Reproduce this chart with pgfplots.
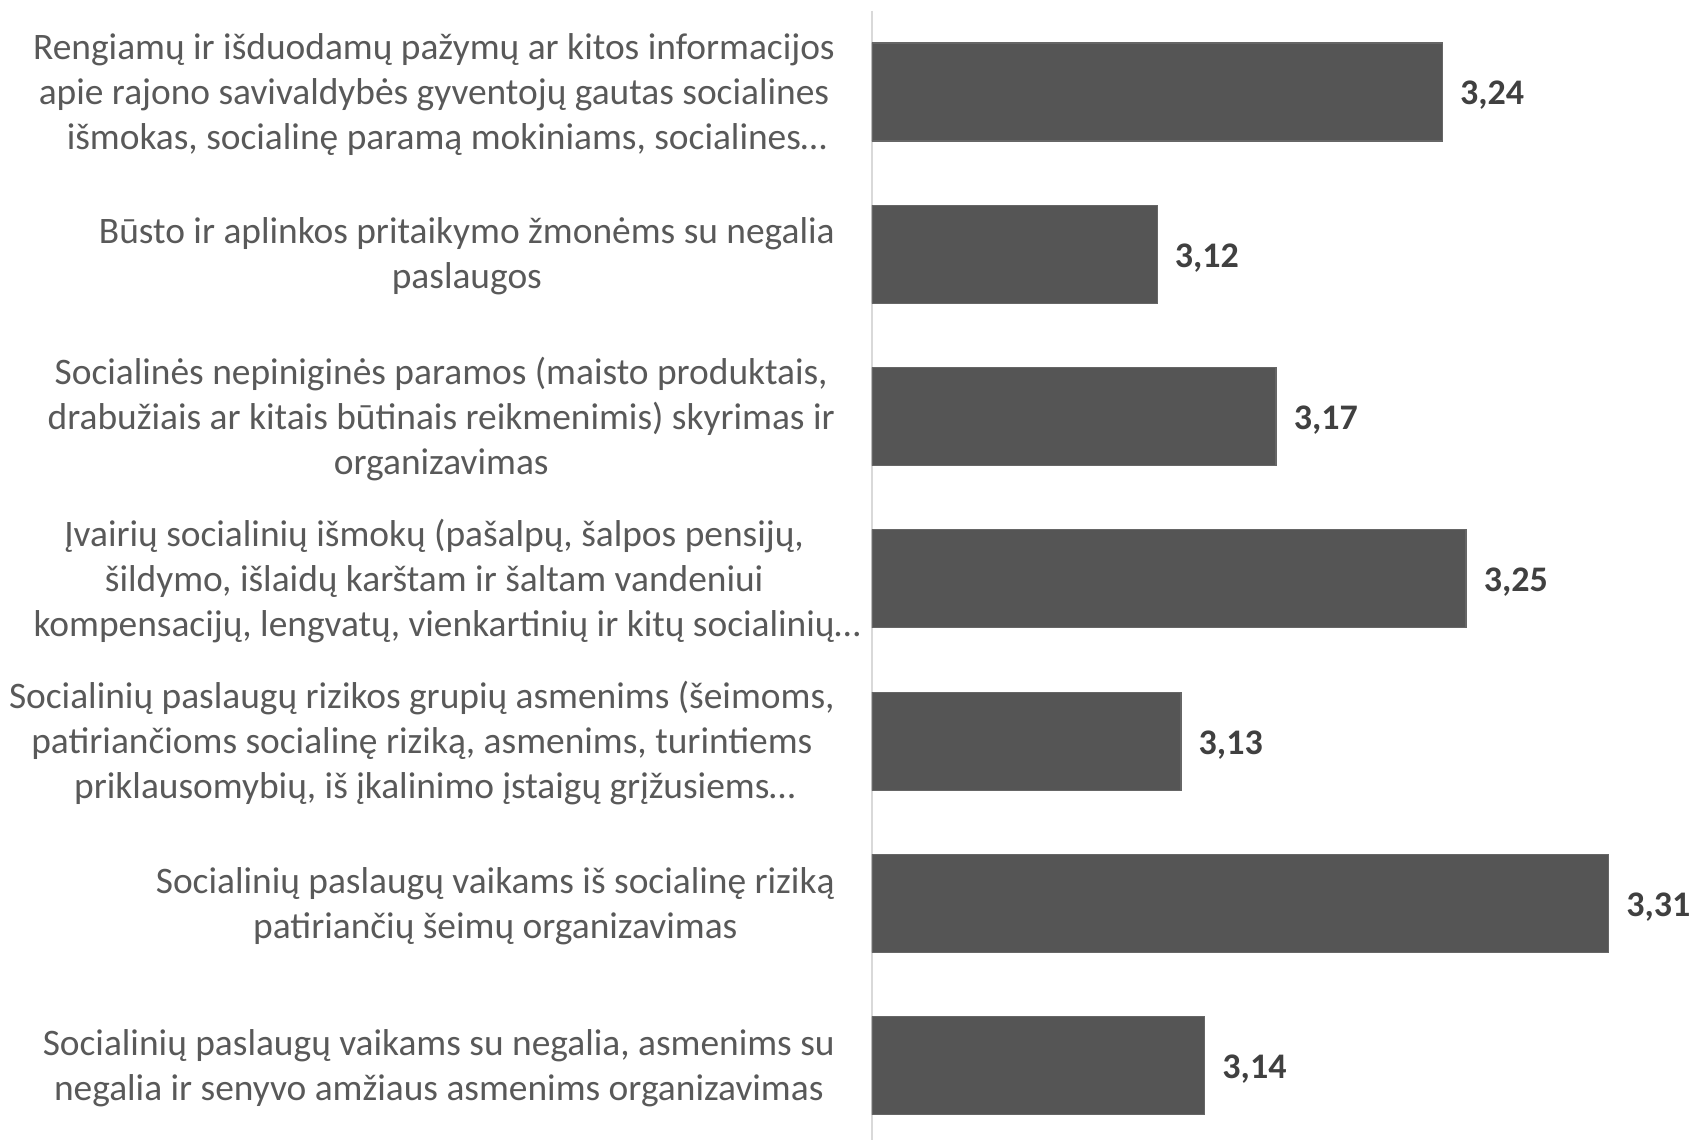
\documentclass[border=0pt]{standalone}
\usepackage{pgfplots}
\usepackage{pgfplotstable}
\pgfplotsset{compat=1.18}
\usepackage{fontspec}
\setmainfont{Carlito}
\definecolor{bargray}{HTML}{555555}
\definecolor{labgray}{HTML}{595959}
\definecolor{valgray}{HTML}{404040}
\definecolor{axgray}{HTML}{D9D9D9}
\pgfplotstableread{
y x lab
0 3.24 {3,24}
1 3.12 {3,12}
2 3.17 {3,17}
3 3.25 {3,25}
4 3.13 {3,13}
5 3.31 {3,31}
6 3.14 {3,14}
}\data
\begin{document}
\begin{tikzpicture}
\begin{axis}[
  at={(218pt,0pt)}, anchor=south west,
  scale only axis, width=205.25pt, height=282.3pt,
  xmin=3, xmax=3.3455,
  ymin=-0.5, ymax=6.458, y dir=reverse,
  axis lines*=left,
  x axis line style={draw=none},
  y axis line style={draw=axgray, line width=0.4pt},
  xtick=\empty,
  ytick={0,1,2,3,4,5,6},
  major tick length=0pt,
  yticklabels={
    {Rengiamų ir išduodamų pažymų ar kitos informacijos\\apie rajono savivaldybės gyventojų gautas socialines\\išmokas, socialinę paramą mokiniams, socialines\rlap{…}},
    {Būsto ir aplinkos pritaikymo žmonėms su negalia\\paslaugos},
    {Socialinės nepiniginės paramos (maisto produktais,\\drabužiais ar kitais būtinais reikmenimis) skyrimas ir\\organizavimas},
    {Įvairių socialinių išmokų (pašalpų, šalpos pensijų,\\šildymo, išlaidų karštam ir šaltam vandeniui\\kompensacijų, lengvatų, vienkartinių ir kitų socialinių\rlap{…}},
    {Socialinių paslaugų rizikos grupių asmenims (šeimoms,\\patiriančioms socialinę riziką, asmenims, turintiems\\priklausomybių, iš įkalinimo įstaigų grįžusiems\rlap{…}},
    {Socialinių paslaugų vaikams iš socialinę riziką\\patiriančių šeimų organizavimas},
    {Socialinių paslaugų vaikams su negalia, asmenims su\\negalia ir senyvo amžiaus asmenims organizavimas}
  },
  yticklabel style={align=center, anchor=east, inner sep=0pt, xshift=-9.1pt, yshift=-0.6pt,
    font=\fontsize{9.35}{11.25}\selectfont, text=labgray},
  xbar, bar width=24.5pt,
  point meta=explicit symbolic,
  nodes near coords,
  nodes near coords style={anchor=west, inner sep=0pt, xshift=4.3pt, yshift=-0.9pt,
    font=\fontsize{9}{10.8}\selectfont\bfseries, text=valgray},
]
\addplot[fill=bargray, draw=bargray!90!white, line width=0.3pt] table[x=x, y=y, meta=lab] {\data};
\end{axis}
\pgfresetboundingbox
\path (0,0) rectangle (423.25pt,285pt);
\end{tikzpicture}
\end{document}
